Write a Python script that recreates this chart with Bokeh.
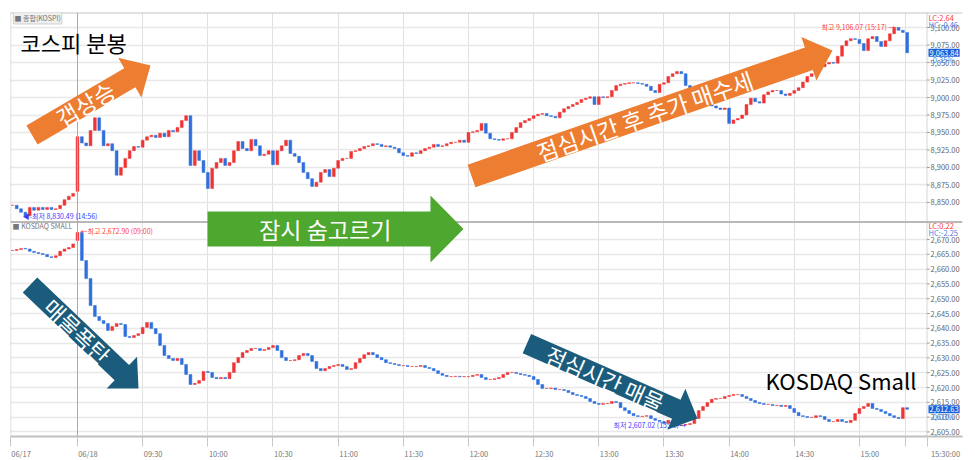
import math
from bokeh.plotting import figure
from bokeh.models import (Range1d, FixedTicker, NumeralTickFormatter, Span, Label,
                          PolyAnnotation, BoxAnnotation, ColumnDataSource)
from bokeh.embed import file_html
from bokeh.resources import INLINE

KR = "Noto Sans CJK KR"

# ---------------- data (2-minute bars) ----------------
# minutes relative to 06/18 09:00; the 06/17 closing bars have negative minutes
prev_minutes = list(range(-30, 0, 2))
day_minutes = list(range(0, 381, 2)) + [382]

kospi_prev_close = [8846, 8841, 8836, 8831, 8843, 8839, 8843, 8840, 8843, 8840,
                    8841, 8846, 8854, 8859, 8863]
kospi_day_open = 8866
kospi_close = [
    8944, 8935, 8931, 8953, 8971, 8953, 8931, 8934, 8924, 8889,
    8900, 8913, 8924, 8930, 8929, 8939, 8944, 8946, 8943, 8949,
    8944, 8953, 8951, 8957, 8967, 8974, 8903, 8924, 8910, 8893,
    8870, 8899, 8907, 8913, 8903, 8907, 8924, 8937, 8927, 8924,
    8940, 8931, 8917, 8919, 8924, 8904, 8924, 8931, 8939, 8920,
    8916, 8907, 8893, 8884, 8873, 8879, 8893, 8897, 8887, 8899,
    8910, 8913, 8913, 8923, 8924, 8927, 8930, 8931, 8934, 8933,
    8930, 8931, 8929, 8927, 8921, 8917, 8916, 8921, 8920, 8924,
    8927, 8929, 8933, 8930, 8931, 8934, 8936, 8936, 8939, 8936,
    8950, 8951, 8953, 8963, 8949, 8941, 8940, 8939, 8941, 8941,
    8950, 8957, 8964, 8967, 8970, 8974, 8976, 8977, 8974, 8973,
    8971, 8979, 8984, 8987, 8990, 8993, 8997, 8999, 9001, 8990,
    9001, 9000, 9001, 9010, 9017, 9019, 9020, 9021, 9021, 9020,
    9019, 9016, 9010, 9007, 9019, 9021, 9030, 9034, 9037, 9034,
    9017, 9008, 9000, 8995, 8992, 8990, 8988, 8985, 8983, 8985,
    8963, 8968, 8970, 8975, 8990, 8999, 8994, 8992, 9004, 9008,
    9010, 9010, 9005, 9003, 9006, 9010, 9014, 9022, 9030, 9034,
    9040, 9044, 9048, 9050, 9049, 9059, 9074, 9081, 9084, 9083,
    9077, 9067, 9084, 9087, 9080, 9073, 9081, 9091, 9100, 9096,
    9093, 9063.84,
]

kq_prev_close = [2666.3, 2666.6, 2667.0, 2666.8, 2666.0, 2665.6, 2665.3, 2664.9,
                 2664.2, 2663.9, 2664.5, 2666.0, 2666.8, 2667.3, 2668.5]
kq_day_open = 2669.7
kq_close = [
    2672.4, 2662.9, 2656.8, 2647.7, 2644.0, 2642.6, 2641.6, 2639.3, 2640.6, 2641.6,
    2641.3, 2637.2, 2636.9, 2637.6, 2638.2, 2640.3, 2642.0, 2639.9, 2638.2, 2634.2,
    2630.8, 2629.8, 2629.1, 2629.8, 2627.8, 2624.4, 2621.0, 2621.4, 2622.4, 2625.4,
    2625.1, 2623.4, 2623.0, 2623.4, 2623.0, 2625.1, 2628.4, 2630.1, 2631.8, 2632.5,
    2633.2, 2633.2, 2632.5, 2632.8, 2633.5, 2634.2, 2632.5, 2630.1, 2629.1, 2629.1,
    2629.4, 2630.8, 2631.5, 2630.8, 2628.8, 2626.4, 2625.7, 2626.4, 2627.1, 2627.4,
    2627.8, 2627.1, 2626.1, 2626.4, 2628.4, 2629.8, 2631.1, 2631.8, 2631.1, 2630.1,
    2629.4, 2628.4, 2628.1, 2627.8, 2627.4, 2627.4, 2627.1, 2627.1, 2627.1, 2627.4,
    2626.8, 2626.4, 2625.7, 2624.7, 2624.1, 2623.7, 2623.7, 2623.8, 2623.6, 2623.7,
    2623.7, 2624.1, 2624.4, 2623.4, 2622.7, 2622.7, 2623.0, 2623.4, 2624.4, 2625.1,
    2625.1, 2624.7, 2624.4, 2624.1, 2623.7, 2622.7, 2621.0, 2619.7, 2619.7, 2619.8,
    2619.3, 2619.3, 2619.0, 2618.3, 2617.6, 2617.3, 2617.0, 2616.3, 2615.3, 2614.6,
    2614.3, 2614.6, 2614.6, 2615.3, 2614.9, 2613.2, 2612.2, 2611.2, 2610.5, 2610.2,
    2610.3, 2610.5, 2609.5, 2608.9, 2608.5, 2607.8, 2608.9, 2608.2, 2607.1, 2607.3,
    2607.5, 2607.8, 2609.5, 2612.2, 2613.6, 2614.9, 2616.0, 2616.3, 2616.3, 2617.0,
    2617.3, 2617.6, 2617.6, 2617.0, 2616.3, 2615.6, 2614.9, 2614.6, 2614.3, 2614.3,
    2613.9, 2614.0, 2613.6, 2613.9, 2612.9, 2611.6, 2610.5, 2610.2, 2609.9, 2609.9,
    2610.5, 2610.2, 2609.2, 2608.5, 2608.5, 2609.2, 2608.5, 2608.2, 2608.9, 2611.2,
    2612.9, 2613.6, 2614.6, 2612.9, 2612.6, 2611.9, 2611.2, 2610.5, 2609.9, 2609.5,
    2613.2, 2612.63,
]

x_tick_minutes = [-30.8, 0, 30, 60, 90, 120, 150, 180, 210, 240, 270, 300, 330, 360]
x_tick_labels = ["06/17", "06/18", "09:30", "10:00", "10:30", "11:00", "11:30", "12:00",
                 "12:30", "13:00", "13:30", "14:00", "14:30", "15:00"]
close_tick_minute = 381
close_label = "15:30:00"
kospi_ticks = [8850, 8875, 8900, 8925, 8950, 8975, 9000, 9025, 9050, 9075, 9100]
kq_ticks = [2605, 2610, 2615, 2620, 2625, 2630, 2635, 2640, 2645, 2650, 2655, 2660, 2665, 2670]

# ---------------- layout constants ----------------
FL, FT, FW, FH = 10, 12, 952, 424          # frame left/top/width/height (px)
X0, X1 = -30.85, 407.46                    # minutes across the frame
TOPR = (8515.71, 9121.43)                  # KOSPI range over the full frame
BOTR = (2603.45, 2746.69)                  # KOSDAQ Small range over the full frame
AXIS_PX = 926.5                            # price-axis line position
UP, DOWN = "#ee3535", "#2f6fdc"
HAS_PAD = "padding" in Label.properties()


def to_px(rng, m, v):
    return (FL + (m - X0) / (X1 - X0) * FW,
            FT + (rng[1] - v) / (rng[1] - rng[0]) * FH)


def to_top(px, py):
    return (X0 + (px - FL) / FW * (X1 - X0),
            TOPR[1] - (py - FT) / FH * (TOPR[1] - TOPR[0]))


def kq_on_axis(t):
    return TOPR[0] + (t - BOTR[0]) / (BOTR[1] - BOTR[0]) * (TOPR[1] - TOPR[0])


def candle_source(prev_c, day_open, day_c):
    xs = prev_minutes + day_minutes
    closes = prev_c + day_c
    opens = [prev_c[0]] + prev_c[:-1] + [day_open] + day_c[:-1]
    return ColumnDataSource(dict(
        x=xs,
        top=[max(o, c) for o, c in zip(opens, closes)],
        bottom=[min(o, c) for o, c in zip(opens, closes)],
        color=[UP if c >= o else DOWN for o, c in zip(opens, closes)],
    ))


p = figure(x_range=Range1d(X0, X1), y_range=Range1d(*TOPR),
           extra_y_ranges={"kq": Range1d(*BOTR)},
           frame_width=FW, frame_height=FH, title=None,
           output_backend="svg", toolbar_location=None,
           x_axis_location="below", y_axis_location="right",
           min_border_left=FL, min_border_right=6, min_border_top=FT, min_border_bottom=16,
           outline_line_color=None, background_fill_color="white", border_fill_color="white")

axis_m = to_top(AXIS_PX, 0)[0]

# grids
p.xgrid.ticker = FixedTicker(ticks=[t for t in x_tick_minutes if t > 0] + [close_tick_minute])
p.xgrid.grid_line_color = "#e0e0e0"
kq_pos = [kq_on_axis(t) for t in kq_ticks]
price_ticker = FixedTicker(ticks=kospi_ticks + kq_pos)
p.ygrid.ticker = price_ticker
p.ygrid.grid_line_color = "#e8e8e8"
p.ygrid.grid_line_width = 1.6

# white strip behind the price labels
p.add_layout(BoxAnnotation(left=axis_m, fill_color="white", fill_alpha=1, line_alpha=0,
                           level="underlay"))

# right price axis (labels pulled back in front of the frame edge)
ya = p.yaxis[0]
ya.ticker = price_ticker
ya.formatter = NumeralTickFormatter(format="0,0.00")
ya.major_label_overrides = {pos: f"{t:,.2f}" for pos, t in zip(kq_pos, kq_ticks)}
ya.major_label_text_font = KR
ya.major_label_text_font_size = "7.5px"
ya.major_label_text_color = "#666666"
ya.major_tick_out = 0
ya.major_tick_in = 0
ya.major_label_standoff = -int(FL + FW - AXIS_PX - 3)
ya.major_tick_line_color = None
ya.minor_tick_line_color = None
ya.axis_line_color = None

# small price-axis tick dashes
p.segment(x0=[axis_m] * len(kospi_ticks), x1=[axis_m + 1.2] * len(kospi_ticks),
          y0=kospi_ticks, y1=kospi_ticks, line_color="#999999", line_width=1)
p.segment(x0=[axis_m] * len(kq_ticks), x1=[axis_m + 1.2] * len(kq_ticks),
          y0=kq_ticks, y1=kq_ticks, line_color="#999999", line_width=1, y_range_name="kq")

# time axis: labels start just right of each tick
shift = 4.8
xa = p.xaxis[0]
label_pos = [t + shift for t in x_tick_minutes]
close_pos = to_top(AXIS_PX + 18.5, 0)[0]
xa.ticker = FixedTicker(ticks=label_pos + [close_pos],
                        minor_ticks=x_tick_minutes + [close_tick_minute, axis_m])
xa.major_label_overrides = dict(zip(label_pos + [close_pos], x_tick_labels + [close_label]))
xa.major_label_text_font = KR
xa.major_label_text_font_size = "7.5px"
xa.major_label_text_color = "#777777"
xa.major_tick_line_color = None
xa.major_tick_out = 0
xa.major_label_standoff = 1
xa.minor_tick_out = 10
xa.minor_tick_in = 0
xa.minor_tick_line_color = "#c8c8c8"
xa.axis_line_color = "#c0c0c0"
xa.axis_line_width = 2

# frame lines
sep_v = to_top(0, 221.5)[1]
p.add_layout(Span(location=TOPR[1], dimension="width", line_color="#c4c4c4", line_width=2))
p.add_layout(Span(location=sep_v, dimension="width", line_color="#b8b8b8", line_width=2))
p.add_layout(Span(location=X0, dimension="height", line_color="#aaaaaa", line_width=1.5,
                  line_dash="1 1"))
p.add_layout(Span(location=axis_m, dimension="height", line_color="#aaaaaa", line_width=1,
                  line_dash="1 1"))
p.add_layout(Span(location=0, dimension="height", line_color="#f28b8b", line_width=1))

# candles
p.vbar(x="x", width=1.3, top="top", bottom="bottom", source=candle_source(
    kospi_prev_close, kospi_day_open, kospi_close),
    fill_color="color", line_color="color", line_width=0.5)
p.vbar(x="x", width=1.3, top="top", bottom="bottom", source=candle_source(
    kq_prev_close, kq_day_open, kq_close), y_range_name="kq",
    fill_color="color", line_color="color", line_width=0.5)


def text(x, y, s, color, align="left", size="7px", kq=False, pad=None, **kw):
    extra = {"y_range_name": "kq"} if kq else {}
    if pad is not None and HAS_PAD:
        extra["padding"] = pad
    p.add_layout(Label(x=x, y=y, text=s, text_color=color, text_font=KR,
                       text_font_size=size, text_align=align, text_baseline="middle",
                       **extra, **kw))


RX = to_top(928, 0)[0]

# --- KOSPI panel texts ---
text(-29.5, 9113.6, "■ 종합(KOSPI)", "#777777", background_fill_color="#efefef",
     border_line_color="#d0d0d0", pad=1)
text(-26.2, 9080, "코스피 분봉", "black", size="22px")
text(-25.3, 8830.49, "◀-최저 8,830.49 (14:56)", "#3c3cff")
text(376.6, 9101.4, "최고 9,106.07 (15:17) →", "#ff4040", align="right")
text(RX, 9114.3, "LC:2.64", "#ff4040", size="7.5px")
text(RX, 9104.3, "HC:-0.46", "#4a7fe0", size="7.5px")
text(RX, 9063.84, "9,063.84", "white", size="7.5px", background_fill_color="#1d5fd6", pad=1)
text(RX + 0.8, 9055.0, "-0.35%", "#4a7fe0", size="7.5px")

# --- KOSDAQ Small panel texts ---
text(-29.9, 2674.4, "■ KOSDAQ SMALL", "#777777", kq=True)
text(1.4, 2672.9, "←최고 2,672.90 (09:00)", "#ff4040", kq=True)
text(246.8, 2607.2, "최저 2,607.02 (13:36)→", "#3c3cff", kq=True)
text(RX, 2674.7, "LC:0.22", "#ff4040", size="7.5px", kq=True)
text(RX, 2672.4, "HC:-2.25", "#4a7fe0", size="7.5px", kq=True)
text(RX, 2612.63, "2,612.63", "white", size="7.5px", kq=True, background_fill_color="#1d5fd6",
     pad=1)
text(RX + 0.8, 2610.2, "-0.03%", "#4a7fe0", size="7.5px", kq=True)
text(316.8, 2622.7, "KOSDAQ Small", "black", size="22px", kq=True)


def arrow(rng, tail, tip, body, head, head_len, color, label, t, size):
    (tx, ty), (qx, qy) = to_px(rng, *tail), to_px(rng, *tip)
    L = math.hypot(qx - tx, qy - ty)
    dx, dy = (qx - tx) / L, (qy - ty) / L
    nx, ny = -dy, dx
    bx, by = qx - dx * head_len, qy - dy * head_len
    pts = [(tx + nx * body / 2, ty + ny * body / 2), (bx + nx * body / 2, by + ny * body / 2),
           (bx + nx * head / 2, by + ny * head / 2), (qx, qy),
           (bx - nx * head / 2, by - ny * head / 2), (bx - nx * body / 2, by - ny * body / 2),
           (tx - nx * body / 2, ty - ny * body / 2)]
    d = [to_top(a, b) for a, b in pts]
    p.add_layout(PolyAnnotation(xs=[q[0] for q in d], ys=[q[1] for q in d],
                                fill_color=color, fill_alpha=1, line_alpha=0))
    lx, ly = to_top(tx + (qx - tx) * t, ty + (qy - ty) * t)
    p.add_layout(Label(x=lx, y=ly, text=label, angle=math.atan2(-(qy - ty), qx - tx),
                       text_align="center", text_baseline="middle", text_color="white",
                       text_font=KR, text_font_size=size))


ORANGE, GREEN, TEAL = "#ED7D31", "#4EA72E", "#1B5C7C"
arrow(TOPR, (-20.95, 8946.4), (33.61, 9045.7), 22, 46, 24, ORANGE, "갭상승", 0.45, "23px")
arrow(TOPR, (181.4, 8887.9), (347.6, 9067.1), 24, 46, 25, ORANGE,
      "점심시간 후 추가 매수세", 0.48, "23px")
arrow(BOTR, (59.85, 2673.55), (177.7, 2673.55), 35, 67, 33, GREEN, "잠시 숨고르기", 0.46, "23px")
arrow(BOTR, (-21.87, 2654.63), (28.08, 2619.66), 21, 44, 23, TEAL, "매물폭탄", 0.44, "22px")
arrow(BOTR, (206.9, 2634.86), (285.4, 2609.53), 21, 45, 23, TEAL, "점심시간 매물", 0.46, "22px")

open("out.html", "w").write(file_html(p, INLINE))
